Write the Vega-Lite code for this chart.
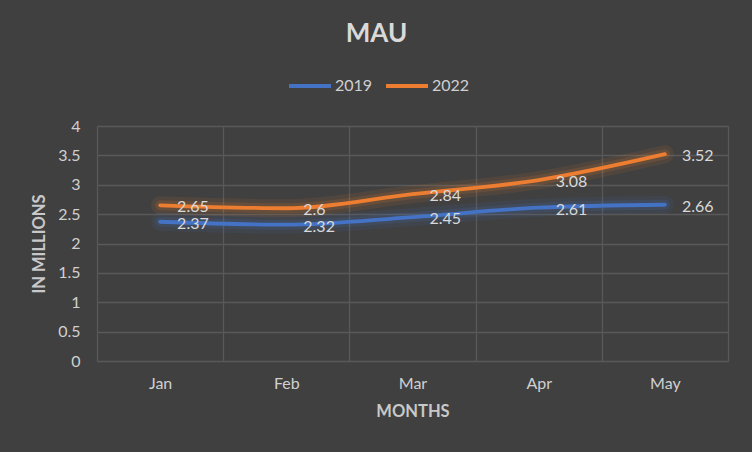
{
  "$schema": "https://vega.github.io/schema/vega-lite/v6.json",
  "autosize": "none",
  "width": 631,
  "height": 235,
  "padding": {"left": 97, "top": 126, "right": 24, "bottom": 91},
  "background": "#404040",
  "config": {
    "font": "Lato",
    "view": {"stroke": "#595959", "strokeWidth": 1},
    "axis": {"gridColor": "#595959", "gridWidth": 1.3, "domain": false, "ticks": false, "labelColor": "#d0d0d0", "labelFontSize": 16, "titleColor": "#c8c8c8", "titleFontSize": 16.5, "titleFontWeight": "bold"}
  },
  "title": {"text": "MAU", "fontSize": 26, "fontWeight": "bold", "color": "#d9d9d9", "anchor": "middle", "dx": -36, "offset": 16},
  "data": {"values": [
    {"month": "Jan", "year": "2019", "value": 2.37},
    {"month": "Feb", "year": "2019", "value": 2.32},
    {"month": "Mar", "year": "2019", "value": 2.45},
    {"month": "Apr", "year": "2019", "value": 2.61},
    {"month": "May", "year": "2019", "value": 2.66},
    {"month": "Jan", "year": "2022", "value": 2.65},
    {"month": "Feb", "year": "2022", "value": 2.6},
    {"month": "Mar", "year": "2022", "value": 2.84},
    {"month": "Apr", "year": "2022", "value": 3.08},
    {"month": "May", "year": "2022", "value": 3.52}
  ]},
  "encoding": {
    "x": {"field": "month", "type": "nominal", "sort": ["Jan", "Feb", "Mar", "Apr", "May"], "bandPosition": 0.5,
      "scale": {"type": "band", "paddingInner": 0, "paddingOuter": 0},
      "axis": {"title": "MONTHS", "labelAngle": 0, "tickBand": "extent", "grid": true, "labelPadding": 14, "titlePadding": 12}},
    "y": {"field": "value", "type": "quantitative", "scale": {"domain": [0, 4]},
      "axis": {"title": "IN MILLIONS", "format": "~g", "values": [0, 0.5, 1, 1.5, 2, 2.5, 3, 3.5, 4], "labelPadding": 17, "titlePadding": 10}},
    "color": {"field": "year", "type": "nominal", "scale": {"domain": ["2019", "2022"], "range": ["#4472C4", "#ED7D31"]},
      "legend": {"title": null, "orient": "none", "legendX": 190, "legendY": -63, "direction": "horizontal", "symbolType": "stroke", "symbolSize": 1764, "symbolStrokeWidth": 4, "symbolOpacity": 1, "labelFontSize": 16, "labelColor": "#d0d0d0", "labelOffset": 2, "columnPadding": 5, "padding": 0}}
  },
  "layer": [
    {"mark": {"type": "line", "interpolate": "monotone", "strokeWidth": 18, "opacity": 0.1, "strokeCap": "round"}},
    {"mark": {"type": "line", "interpolate": "monotone", "strokeWidth": 10, "opacity": 0.15, "strokeCap": "round"}},
    {"mark": {"type": "line", "interpolate": "monotone", "strokeWidth": 3.8, "strokeCap": "round"}},
    {"mark": {"type": "text", "align": "left", "baseline": "middle", "dx": 17, "dy": 2, "fontSize": 16, "color": "#d9d9d9"},
      "encoding": {"text": {"field": "value", "type": "quantitative"}, "color": {"value": "#d9d9d9"}}}
  ]
}
